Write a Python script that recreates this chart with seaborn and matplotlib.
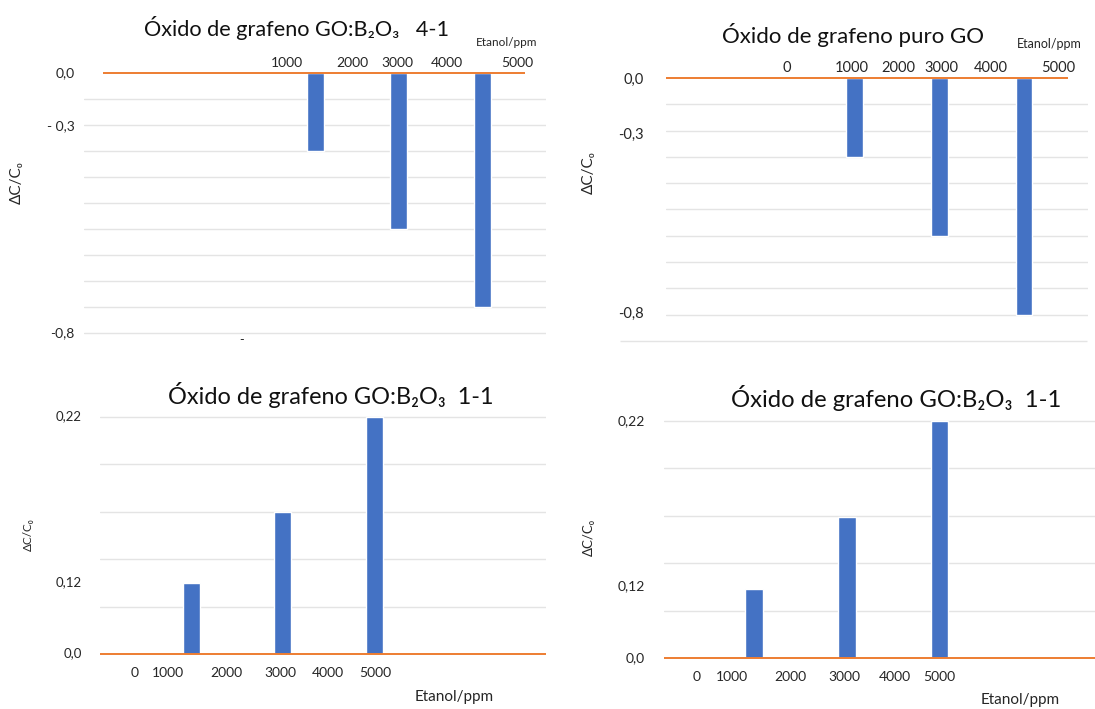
import matplotlib
matplotlib.use("Agg")
import matplotlib.pyplot as plt
import seaborn as sns

# Data (ΔC/C0 versus ethanol concentration)
etanol_ppm = [1000, 3000, 5000]
dc_go_b2o3_41 = [-0.24, -0.48, -0.72]
dc_go_puro = [-0.24, -0.48, -0.72]
dc_go_b2o3_11_a = [0.066, 0.132, 0.22]
dc_go_b2o3_11_b = [0.064, 0.131, 0.22]

titles = [
    "Óxido de grafeno GO:B₂O₃   4-1",
    "Óxido de grafeno puro GO",
    "Óxido de grafeno GO:B₂O₃  1-1",
    "Óxido de grafeno GO:B₂O₃  1-1",
]
ppm_labels_41 = ["1000", "2000", "3000", "4000", "5000"]
ppm_labels = ["0", "1000", "2000", "3000", "4000", "5000"]
ylabels_41 = ["0,0", "- 0,3", "-0,8"]
ylabels_puro = ["0,0", "-0,3", "-0,8"]
ylabels_11 = ["0,0", "0,12", "0,22"]
ylabel_text = "ΔC/C₀"
xlabel_text = "Etanol/ppm"

BLUE = "#4472C4"
ORANGE = "#ED7D31"
GRID = "#E4E4E4"
TEXT = "#262626"

W, H = 1095, 709

sns.set_theme(style="white")
plt.rcParams["font.family"] = ["Lato", "DejaVu Sans"]

fig = plt.figure(figsize=(W / 100, H / 100), dpi=100)


def make_panel(box, x0, k, y0, u):
    """box in pixels (left, top, right, bottom); x0/k: pixel of 0 ppm and px per 1000 ppm;
    y0/u: pixel of 0 and px per unit of ΔC/C0."""
    left, top, right, bottom = box
    ax = fig.add_axes([left / W, 1 - bottom / H, (right - left) / W, (bottom - top) / H])
    px_x = lambda px: (px - x0) / k * 1000
    px_y = lambda py: (y0 - py) / u
    return ax, px_x, px_y


def draw(ax, px_x, px_y, values, width, grid_vals, box):
    sns.barplot(x=etanol_ppm, y=values, native_scale=True, width=width,
                color=BLUE, saturation=1, ax=ax, zorder=2)
    left, top, right, bottom = box
    ax.set_xlim(px_x(left), px_x(right))
    ax.set_ylim(px_y(bottom), px_y(top))
    ax.yaxis.remove_overlapping_locs = False
    ax.set_yticks(grid_vals, labels=[""] * len(grid_vals))
    ax.grid(axis="y", which="major", color=GRID, lw=1.0, zorder=0)
    ax.grid(axis="x", visible=False)
    ax.set_axisbelow(True)
    ax.tick_params(axis="both", which="both", length=0, colors=TEXT)
    for s in ax.spines.values():
        s.set_visible(False)
    ax.set_xlabel("")
    ax.set_ylabel("")


# ---- top left: GO:B2O3 4-1
box = (84, 70, 546, 336)
ax, px_x, px_y = make_panel(box, 273.5, 41.75, 73, 325)
draw(ax, px_x, px_y, dc_go_b2o3_41, 0.2, [-0.08 * i for i in range(1, 11)], box)
ax.hlines(0, px_x(103), px_x(525), color=ORANGE, lw=1.4, zorder=3)
ax.xaxis.tick_top()
ax.set_xticks([px_x(p) for p in [287, 352, 397, 447, 517]], labels=ppm_labels_41)
ax.tick_params(axis="x", labelsize=10, pad=1)
ax.set_yticks([px_y(p) for p in [72, 125, 332]], labels=ylabels_41, minor=True)
ax.tick_params(axis="y", which="minor", labelsize=10, pad=7)
fig.text(296 / W, 1 - 28 / H, titles[0], ha="center", va="center", fontsize=15.6, color="#111111")
fig.text(507 / W, 1 - 43 / H, xlabel_text, ha="center", va="center", fontsize=8.5, color=TEXT)
fig.text(17 / W, 1 - 183 / H, ylabel_text, ha="center", va="center", rotation=90, fontsize=11, color=TEXT)
fig.text(242 / W, 1 - 340 / H, "-", ha="center", va="center", fontsize=9, color=TEXT)

# ---- top right: GO puro
box = (666, 76, 1088, 343)
ax, px_x, px_y = make_panel(box, 812, 42.4, 78, 328.5)
draw(ax, px_x, px_y, dc_go_puro, 0.2, [-0.08 * i for i in range(1, 10)], box)
ax.hlines(-0.8, px_x(620), px_x(1087), color=GRID, lw=1.0, zorder=0, clip_on=False)
ax.hlines(0, px_x(666), px_x(1068), color=ORANGE, lw=1.4, zorder=3)
ax.xaxis.tick_top()
ax.set_xticks([px_x(p) for p in [787, 852, 898, 941, 991, 1058]], labels=ppm_labels)
ax.tick_params(axis="x", labelsize=10.5, pad=1)
ax.set_yticks([px_y(p) for p in [78, 133, 312]], labels=ylabels_puro, minor=True)
ax.tick_params(axis="y", which="minor", labelsize=10.5, pad=16)
fig.text(853 / W, 1 - 35 / H, titles[1], ha="center", va="center", fontsize=16, color="#111111")
fig.text(1049 / W, 1 - 44 / H, xlabel_text, ha="center", va="center", fontsize=9, color=TEXT)
fig.text(589 / W, 1 - 173 / H, ylabel_text, ha="center", va="center", rotation=90, fontsize=11, color=TEXT)

# ---- bottom left: GO:B2O3 1-1
box = (100, 415, 546, 656)
ax, px_x, px_y = make_panel(box, 145.5, 45.75, 654, 1077)
draw(ax, px_x, px_y, dc_go_b2o3_11_a, 0.19, [0.044 * i for i in range(1, 6)], box)
ax.hlines(0, px_x(100), px_x(546), color=ORANGE, lw=1.4, zorder=3)
ax.set_xticks([px_x(p) for p in [135, 168, 226, 280, 328, 375]], labels=ppm_labels)
ax.tick_params(axis="x", labelsize=10, pad=8)
ax.set_yticks([px_y(p) for p in [652, 581, 415]], labels=ylabels_11, minor=True)
ax.tick_params(axis="y", which="minor", labelsize=9.5, pad=13)
fig.text(331 / W, 1 - 395 / H, titles[2], ha="center", va="center", fontsize=16.9, color="#111111")
fig.text(454 / W, 1 - 697 / H, xlabel_text, ha="center", va="center", fontsize=11, color=TEXT)
fig.text(28 / W, 1 - 535 / H, ylabel_text, ha="center", va="center", rotation=90, fontsize=8.5, color=TEXT)

# ---- bottom right: GO:B2O3 1-1
box = (664, 419, 1095, 660)
ax, px_x, px_y = make_panel(box, 707.6, 46.4, 658, 1078)
draw(ax, px_x, px_y, dc_go_b2o3_11_b, 0.19, [0.044 * i for i in range(1, 6)], box)
ax.hlines(0, px_x(664), px_x(1095), color=ORANGE, lw=1.4, zorder=3)
ax.set_xticks([px_x(p) for p in [697, 732, 790, 844, 895, 939]], labels=ppm_labels)
ax.tick_params(axis="x", labelsize=10, pad=8)
ax.set_yticks([px_y(p) for p in [657, 585, 420]], labels=ylabels_11, minor=True)
ax.tick_params(axis="y", which="minor", labelsize=10, pad=14)
fig.text(896 / W, 1 - 398 / H, titles[3], ha="center", va="center", fontsize=17.2, color="#111111")
fig.text(1020 / W, 1 - 700 / H, xlabel_text, ha="center", va="center", fontsize=11, color=TEXT)
fig.text(589 / W, 1 - 537 / H, ylabel_text, ha="center", va="center", rotation=90, fontsize=9.5, color=TEXT)

fig.savefig("out.png", dpi=100)
